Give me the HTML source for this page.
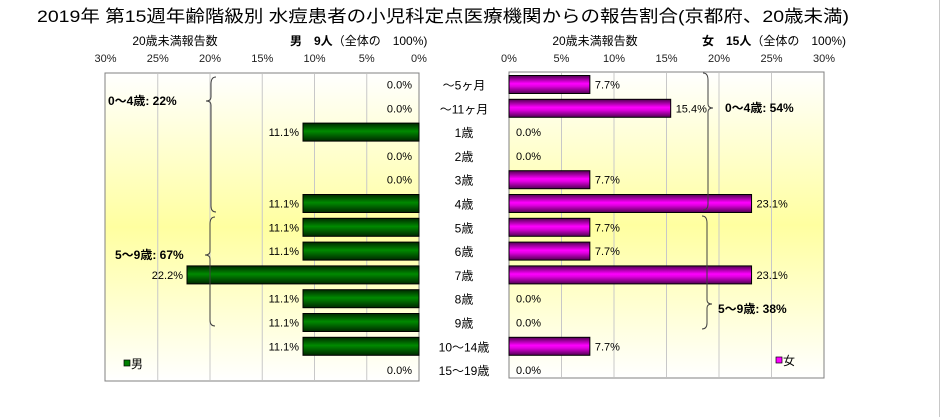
<!DOCTYPE html>
<html><head><meta charset="utf-8"><style>
body{margin:0;background:#fff;}
svg{display:block;font-family:"Liberation Sans","Noto Sans CJK JP",sans-serif;}
</style></head><body>
<svg id="c" width="944" height="417" viewBox="0 0 944 417">
<defs>
<linearGradient id="bg" x1="0" y1="0" x2="0" y2="1">
<stop offset="0" stop-color="#ffffff"/><stop offset="0.5" stop-color="#ffffa0"/><stop offset="1" stop-color="#ffffff"/></linearGradient>
<linearGradient id="gm" x1="0" y1="0" x2="0" y2="1">
<stop offset="0" stop-color="#002800"/><stop offset="0.45" stop-color="#008a00"/><stop offset="0.6" stop-color="#007000"/><stop offset="1" stop-color="#002800"/></linearGradient>
<linearGradient id="gf" x1="0" y1="0" x2="0" y2="1">
<stop offset="0" stop-color="#500050"/><stop offset="0.45" stop-color="#ff00ff"/><stop offset="0.6" stop-color="#e000e0"/><stop offset="1" stop-color="#500050"/></linearGradient>
</defs>
<line x1="939.5" y1="0" x2="939.5" y2="417" stroke="#c8c8c8"/>
<text x="37" y="22" font-size="17" textLength="812" lengthAdjust="spacingAndGlyphs">2019年 第15週年齢階級別 水痘患者の小児科定点医療機関からの報告割合(京都府、20歳未満)</text>
<text x="175" y="45" text-anchor="middle" font-size="12">20歳未満報告数</text>
<text x="290" y="45" font-size="12"><tspan font-weight="bold">男　9人</tspan>（全体の　100%)</text>
<text x="595" y="45" text-anchor="middle" font-size="12">20歳未満報告数</text>
<text x="702" y="45" font-size="12"><tspan font-weight="bold">女　15人</tspan>（全体の　100%)</text>
<rect x="105" y="73" width="314" height="308" fill="url(#bg)" stroke="#808080"/>
<rect x="509" y="72" width="315" height="306" fill="url(#bg)" stroke="#808080"/>
<g id="grid"></g><g id="bars"></g><g id="labels"></g>
<g fill="none" stroke="#404040" stroke-width="1">
<path d="M216,77 Q211,77 211,84 L211,97 Q211,101 206,101 Q211,101 211,105 L211,206 Q211,212 216,212"/>
<path d="M215,217 Q210,217 210,224 L210,251 Q210,255 205,255 Q210,255 210,259 L210,320 Q210,326 215,326"/>
<path d="M703,73 Q708,73 708,80 L708,104 Q708,108 713,108 Q708,108 708,112 L708,204 Q708,210 703,210"/>
<path d="M702,216 Q707,216 707,223 L707,300 Q707,304 712,304 Q707,304 707,308 L707,323 Q707,329 702,329"/>
</g>
<text x="108" y="105" font-size="12" font-weight="bold">0～4歳: 22%</text>
<text x="115" y="259" font-size="12" font-weight="bold">5～9歳: 67%</text>
<text x="725" y="112" font-size="12" font-weight="bold">0～4歳: 54%</text>
<text x="718" y="313" font-size="12" font-weight="bold">5～9歳: 38%</text>
<g><rect x="124" y="360" width="6" height="6" fill="#008000" stroke="#000" stroke-width="0.7"/><text x="131" y="368" font-size="12">男</text></g>
<g><rect x="776" y="357" width="6" height="6" fill="#ff00ff" stroke="#000" stroke-width="0.7"/><text x="783" y="365" font-size="12">女</text></g>
</svg>
<script>
const categories=["～5ヶ月","～11ヶ月","1歳","2歳","3歳","4歳","5歳","6歳","7歳","8歳","9歳","10～14歳","15～19歳"];
const maleValues=[0,0,11.1,0,0,11.1,11.1,11.1,22.2,11.1,11.1,11.1,0];
const femaleValues=[7.7,15.4,0,0,7.7,23.1,7.7,7.7,23.1,0,0,7.7,0];
const tickValues=[0,5,10,15,20,25,30];
const NS="http://www.w3.org/2000/svg";
const mx=v=>419-v*10.45, fx=v=>509+v*10.5, yc=i=>84.5+i*23.8;
function mk(tag,a,p){const e=document.createElementNS(NS,tag);for(const k in a)e.setAttribute(k,a[k]);p.appendChild(e);return e;}
const grid=document.getElementById('grid'),bars=document.getElementById('bars'),labels=document.getElementById('labels');
tickValues.forEach(t=>{
  if(t>0&&t<30){
    const g1=mk('line',{x1:mx(t),x2:mx(t),y1:74,y2:380,stroke:'#c8c8c8'},grid);
    
    
    const g2=mk('line',{x1:fx(t),x2:fx(t),y1:73,y2:377,stroke:'#c8c8c8'},grid);
    
    
  }
  const a=mk('text',{x:mx(t),y:62,'text-anchor':'middle','font-size':11,fill:'#222'},labels);a.textContent=t+'%';
  
  
  const b=mk('text',{x:fx(t),y:62,'text-anchor':'middle','font-size':11,fill:'#222'},labels);b.textContent=t+'%';
  
  
});
categories.forEach((c,i)=>{
  const y=yc(i);
  const cl=mk('text',{x:464,y:y+5,'text-anchor':'middle','font-size':12},labels);cl.textContent=c;
  
  
  const m=maleValues[i],f=femaleValues[i];
  if(m>0){const r=mk('rect',{x:mx(m),y:y-9,width:419-mx(m),height:18,fill:'url(#gm)',stroke:'#000'},bars);
    
    }
  const ml=mk('text',{x:m>0?mx(m)-4:412,y:y+4,'text-anchor':'end','font-size':11},labels);ml.textContent=m.toFixed(1)+'%';
  
  
  if(f>0){const r=mk('rect',{x:509,y:y-9,width:fx(f)-509,height:18,fill:'url(#gf)',stroke:'#000'},bars);
    
    }
  const fl=mk('text',{x:f>0?fx(f)+5:516,y:y+4,'font-size':11},labels);fl.textContent=f.toFixed(1)+'%';
  
  
});
</script>
</body></html>
